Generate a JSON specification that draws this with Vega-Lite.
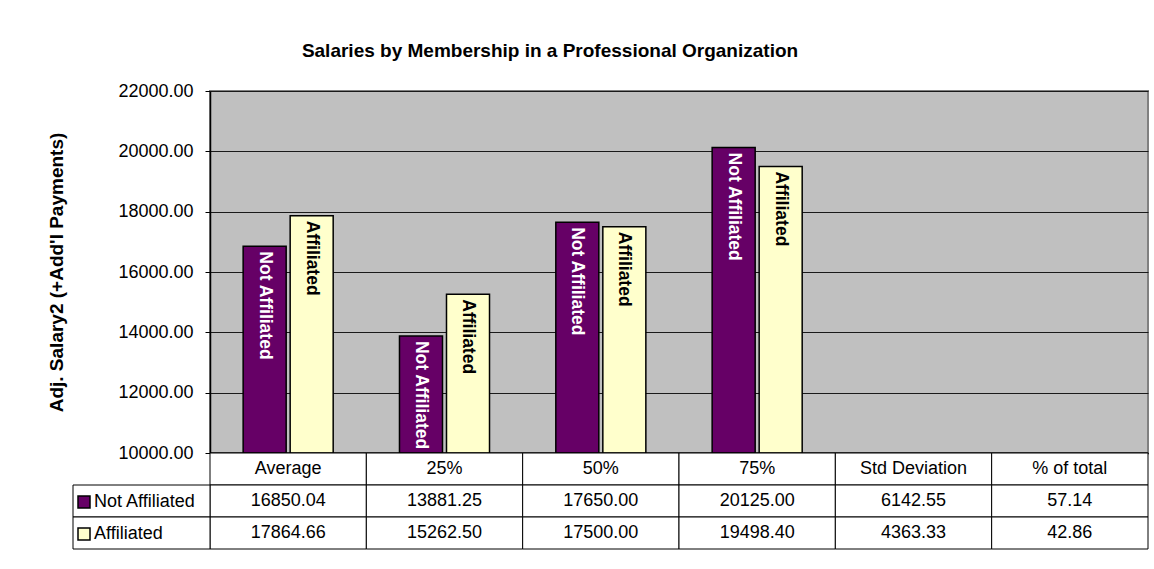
{
  "$schema": "https://vega.github.io/schema/vega-lite/v6.json",
  "width": 938,
  "height": 362,
  "autosize": {"type": "none"},
  "padding": {"left": 210, "top": 91, "right": 6, "bottom": 116},
  "background": "white",
  "title": {
    "text": "Salaries by Membership in a Professional Organization",
    "anchor": "middle",
    "frame": "group",
    "dx": -129,
    "offset": 6,
    "baseline": "alphabetic",
    "fontSize": 19,
    "fontWeight": "bold",
    "color": "black"
  },
  "config": {
    "font": "Liberation Sans",
    "view": {"fill": "#C0C0C0", "stroke": "#808080", "strokeWidth": 2}
  },
  "datasets": {
    "stats": [
      {"stat": "Average", "series": "Not Affiliated", "value": 16850.04},
      {"stat": "Average", "series": "Affiliated", "value": 17864.66},
      {"stat": "25%", "series": "Not Affiliated", "value": 13881.25},
      {"stat": "25%", "series": "Affiliated", "value": 15262.50},
      {"stat": "50%", "series": "Not Affiliated", "value": 17650.00},
      {"stat": "50%", "series": "Affiliated", "value": 17500.00},
      {"stat": "75%", "series": "Not Affiliated", "value": 20125.00},
      {"stat": "75%", "series": "Affiliated", "value": 19498.40},
      {"stat": "Std Deviation", "series": "Not Affiliated", "value": 6142.55},
      {"stat": "Std Deviation", "series": "Affiliated", "value": 4363.33},
      {"stat": "% of total", "series": "Not Affiliated", "value": 57.14},
      {"stat": "% of total", "series": "Affiliated", "value": 42.86}
    ]
  },
  "data": {"name": "stats"},
  "resolve": {"scale": {"x": "independent", "y": "independent", "color": "independent"}},
  "layer": [
    {
      "transform": [{"filter": "datum.value >= 10000"}],
      "encoding": {
        "x": {
          "field": "stat", "type": "nominal",
          "scale": {"domain": ["Average", "25%", "50%", "75%", "Std Deviation", "% of total"], "paddingInner": 0, "paddingOuter": 0},
          "axis": {"labels": false, "ticks": false, "domain": true, "domainColor": "black", "domainWidth": 2, "title": null, "grid": false}
        },
        "xOffset": {
          "field": "series", "type": "nominal",
          "scale": {"domain": ["Not Affiliated", "Affiliated"], "paddingInner": 0.085, "paddingOuter": 0.705}
        },
        "y": {
          "field": "value", "type": "quantitative",
          "scale": {"domain": [10000, 22000], "zero": false, "nice": false},
          "axis": {
            "title": "Adj. Salary2 (+Add'l Payments)",
            "values": [10000, 12000, 14000, 16000, 18000, 20000, 22000],
            "format": ".2f",
            "labelFontSize": 18,
            "labelColor": "black",
            "labelPadding": 12,
            "labelFlush": false,
            "labelBound": false,
            "tickSize": 5,
            "tickColor": "black",
            "domainColor": "black",
            "domainWidth": 1.5,
            "grid": true,
            "gridColor": "#1a1a1a",
            "gridWidth": 1,
            "titleFontSize": 19,
            "titleFontWeight": "bold",
            "titleColor": "black",
            "titleX": -154,
            "titleY": 181,
            "titleBaseline": "middle",
            "titleAngle": -90
          }
        }
      },
      "layer": [
        {
          "mark": {"type": "bar", "stroke": "black", "strokeWidth": 1.5},
          "encoding": {
            "y2": {"datum": 10000},
            "color": {
              "field": "series", "type": "nominal",
              "scale": {"domain": ["Not Affiliated", "Affiliated"], "range": ["#660066", "#FFFFCC"]},
              "legend": {
                "orient": "none",
                "legendX": -135,
                "legendY": 402,
                "title": null,
                "symbolType": "square",
                "symbolSize": 144,
                "symbolStrokeColor": "black",
                "symbolStrokeWidth": 1.5,
                "symbolOpacity": 1,
                "labelFontSize": 18,
                "labelColor": "black",
                "labelOffset": 1,
                "rowPadding": 14,
                "padding": 0
              }
            }
          }
        },
        {
          "mark": {"type": "text", "angle": 90, "align": "left", "baseline": "middle", "dx": 5, "fontSize": 17.5, "fontWeight": "bold"},
          "encoding": {
            "text": {"field": "series"},
            "color": {"condition": {"test": "datum.series === 'Not Affiliated'", "value": "white"}, "value": "black"}
          }
        }
      ]
    },
    {
      "encoding": {
        "x": {
          "field": "stat", "type": "nominal",
          "scale": {"domain": ["Average", "25%", "50%", "75%", "Std Deviation", "% of total"], "paddingInner": 0, "paddingOuter": 0},
          "axis": null
        }
      },
      "layer": [
        {
          "transform": [{"filter": "datum.series === 'Not Affiliated'"}],
          "mark": {"type": "rect", "fill": "white", "stroke": "black", "strokeWidth": 1},
          "encoding": {
            "y": {"datum": "header", "type": "nominal", "scale": {"domain": ["header", "Not Affiliated", "Affiliated"], "range": [362, 458], "paddingInner": 0, "paddingOuter": 0}, "axis": null}
          }
        },
        {
          "transform": [{"filter": "datum.series === 'Not Affiliated'"}],
          "mark": {"type": "text", "fontSize": 18, "color": "black", "baseline": "middle"},
          "encoding": {
            "text": {"field": "stat"},
            "y": {"datum": "header", "type": "nominal", "axis": null}
          }
        },
        {
          "mark": {"type": "rect", "fill": "white", "stroke": "black", "strokeWidth": 1},
          "encoding": {
            "y": {"field": "series", "type": "nominal", "axis": null}
          }
        },
        {
          "mark": {"type": "text", "fontSize": 18, "color": "black", "baseline": "middle"},
          "encoding": {
            "text": {"field": "value", "format": ".2f"},
            "y": {"field": "series", "type": "nominal", "axis": null}
          }
        }
      ]
    },
    {
      "transform": [{"filter": "datum.stat === 'Average'"}],
      "mark": {"type": "rect", "fill": "white", "stroke": "black", "strokeWidth": 1},
      "encoding": {
        "x": {"datum": "legend", "type": "nominal", "scale": {"domain": ["legend"], "range": [-137, 0], "paddingInner": 0, "paddingOuter": 0}, "axis": null},
        "y": {"field": "series", "type": "nominal", "scale": {"domain": ["header", "Not Affiliated", "Affiliated"], "range": [362, 458], "paddingInner": 0, "paddingOuter": 0}, "axis": null}
      }
    }
  ]
}
